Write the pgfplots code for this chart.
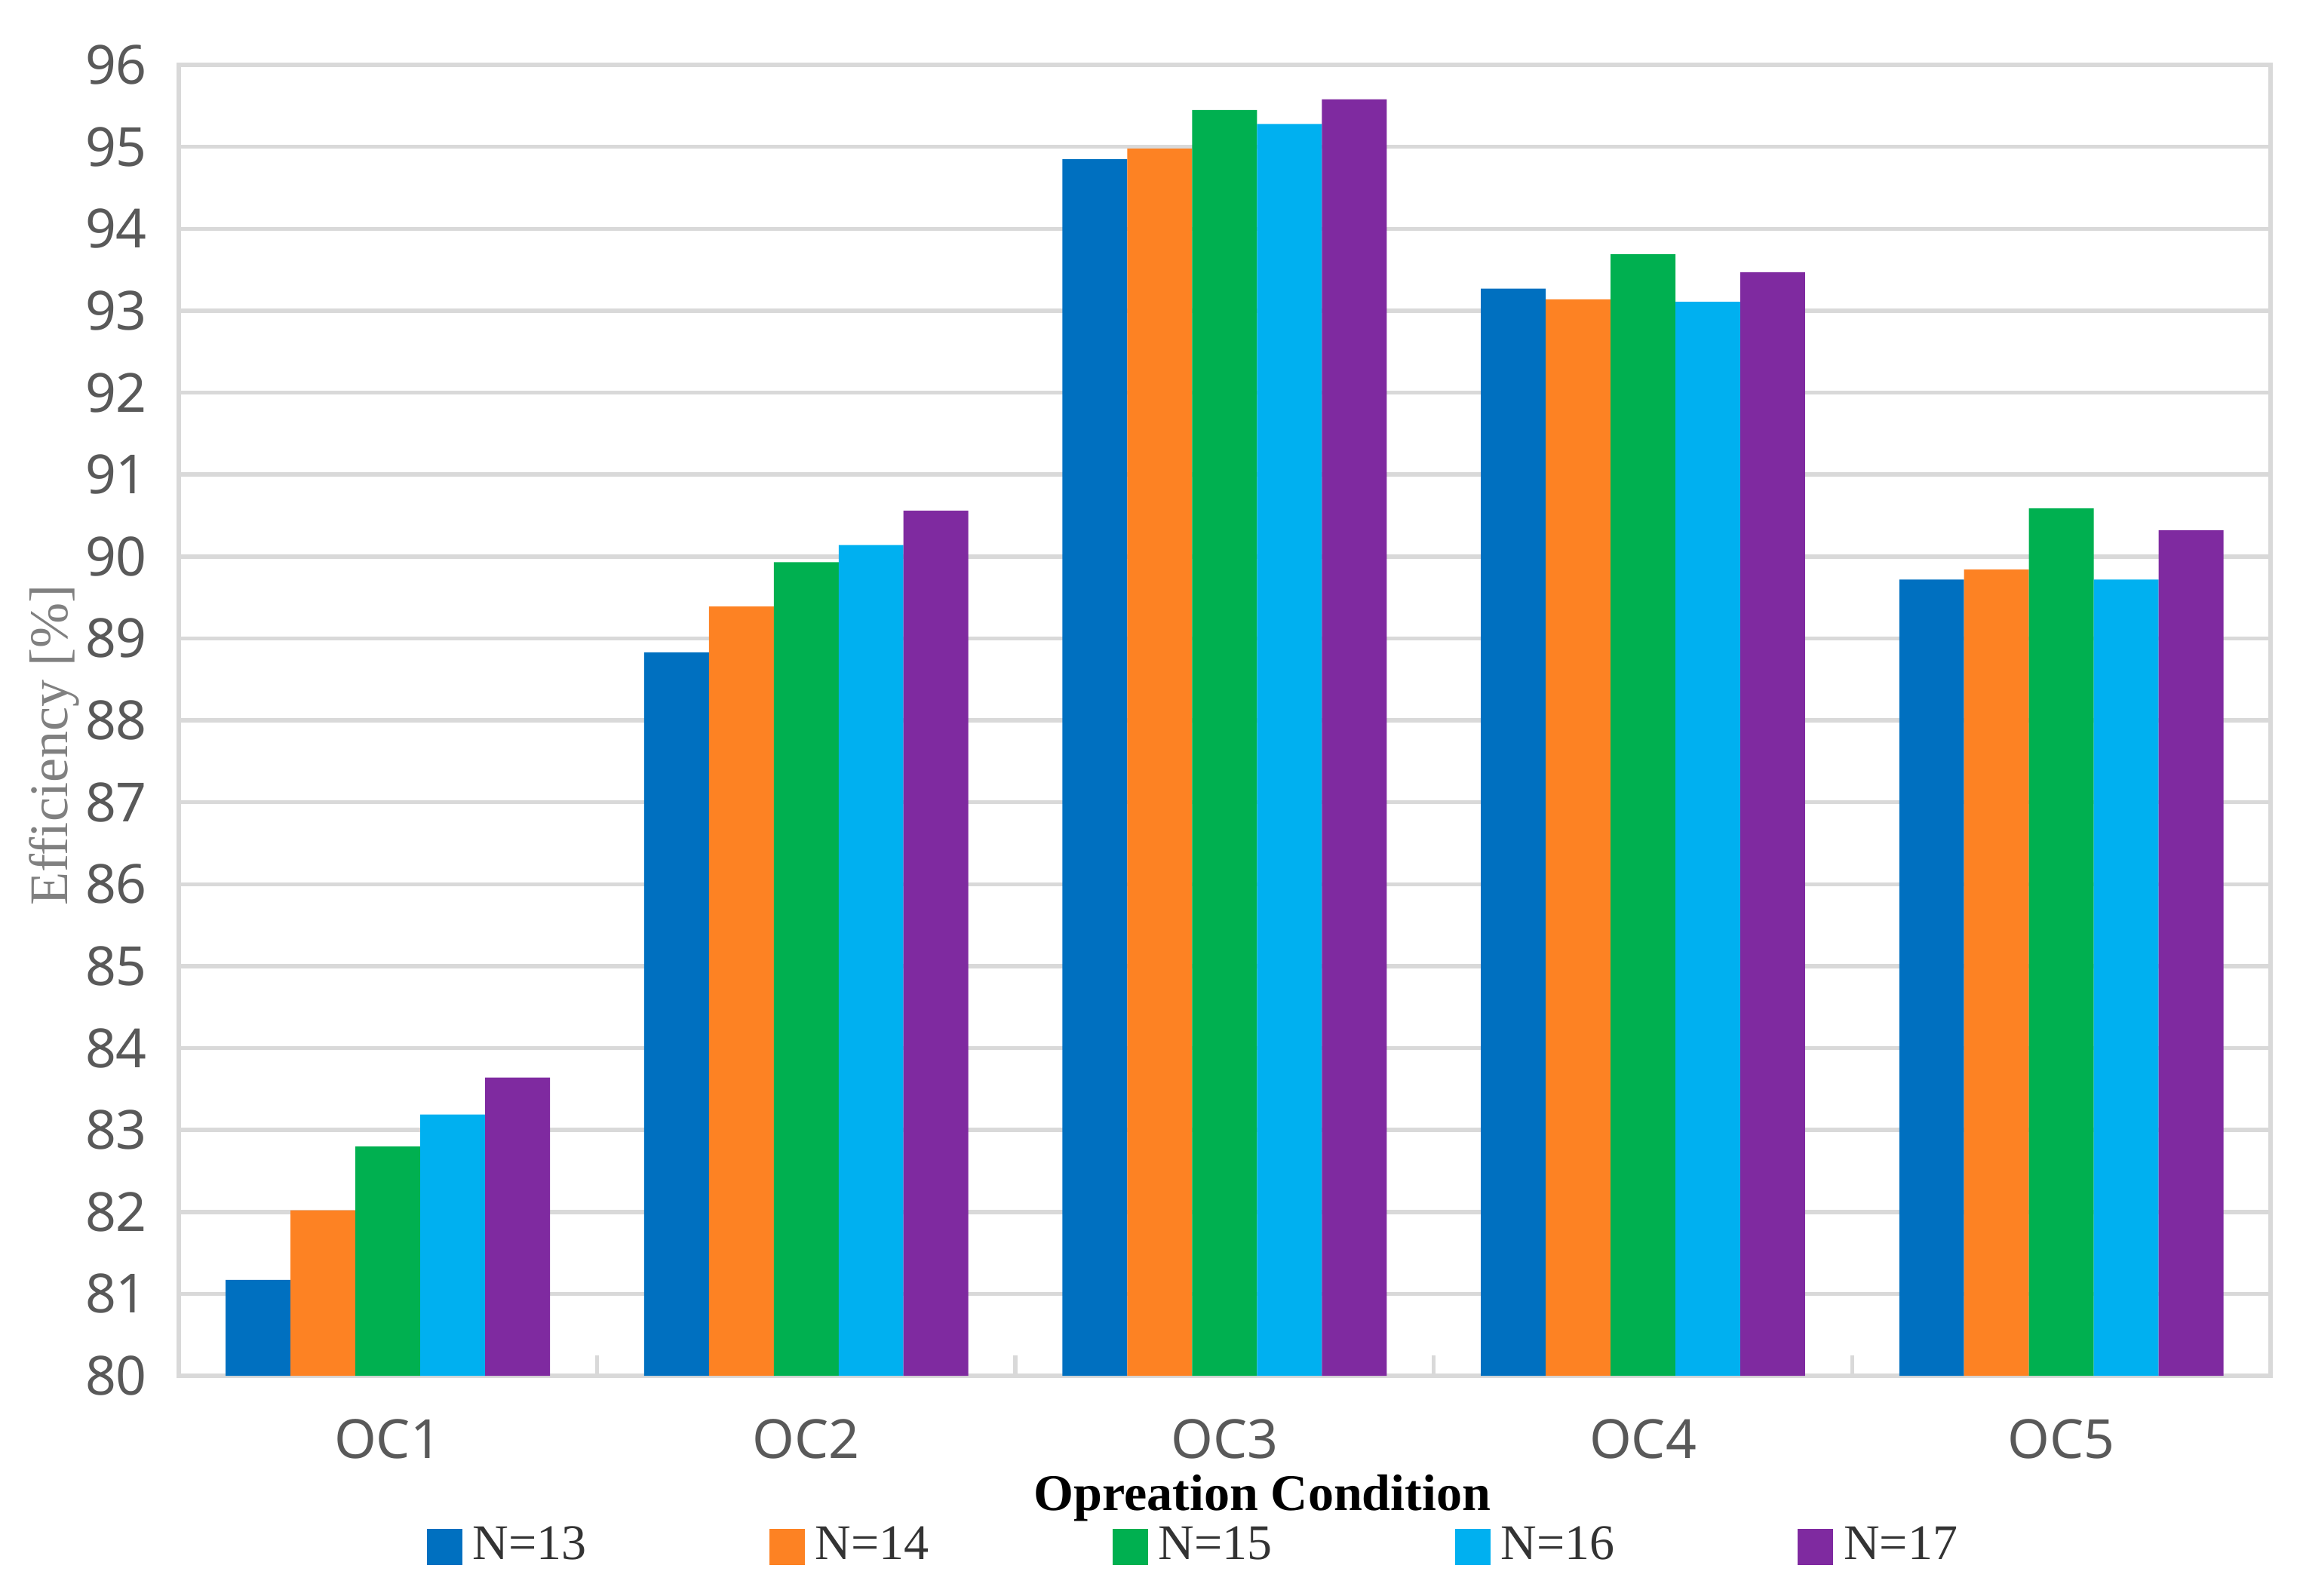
\documentclass[border=0pt]{standalone}
\usepackage{pgfplots}
\pgfplotsset{compat=1.18}
\usepackage{fontspec}
\setmainfont{Liberation Serif}
\newfontfamily\tickfont{Noto Sans}
\definecolor{gridgrey}{HTML}{D9D9D9}
\definecolor{ticktext}{HTML}{595959}
\definecolor{cA}{HTML}{0070C0}
\definecolor{cB}{HTML}{FD8223}
\definecolor{cC}{HTML}{00B050}
\definecolor{cD}{HTML}{00B0F0}
\definecolor{cE}{HTML}{7F2AA0}
\begin{document}
\begin{tikzpicture}
\path[use as bounding box] (-1.21cm,-1.49cm) rectangle (14.39cm,9.32cm);
\begin{axis}[
  scale only axis,
  width=14.17cm, height=8.88cm,
  ymin=80, ymax=96, ytick={80,81,...,96},
  xmin=-0.5, xmax=4.5,
  xtick={0,1,2,3,4},
  xticklabels={OC1,OC2,OC3,OC4,OC5},
  xtick pos=bottom,
  major tick length=0pt,
  extra x ticks={0.5,1.5,2.5,3.5},
  extra x tick labels={},
  extra x tick style={major tick length=0.14cm, tick align=inside, xtick pos=bottom,
     major tick style={draw=gridgrey, line width=0.8pt}},
  ybar=0pt, bar width=0.155,
  ymajorgrids,
  grid style={draw=gridgrey, line width=0.8pt},
  axis line style={draw=gridgrey, line width=0.8pt},
  /pgf/number format/assume math mode=true,
  ticklabel style={font=\tickfont\fontsize{10.4}{12}\selectfont, text=ticktext},
  yticklabel style={xshift=-0.09cm},
  xticklabel style={yshift=-0.17cm},
  xlabel={\textbf{Opreation Condition}},
  xlabel style={at={(axis description cs:0.518,-0.0935)}, anchor=center, font=\fontsize{9.9}{12}\selectfont, text=black},
  ylabel={Efficiency [\%]},
  ylabel style={at={(axis description cs:-0.0593,0.481)}, anchor=center, font=\fontsize{10.5}{12}\selectfont, text=black!50},
  legend columns=5,
  legend style={at={(axis description cs:0.487,-0.1306)}, anchor=center, draw=none, fill=none,
    font=\fontsize{9.6}{12}\selectfont, text=black!80,
    /tikz/every even column/.append style={column sep=1.17cm},
    inner sep=0pt},
  legend image code/.code={\fill[#1] (0cm,-0.125cm) rectangle (0.24cm,0.125cm);},
]
\addplot[fill=cA, draw=none] coordinates {(0,81.17) (1,88.83) (2,94.85) (3,93.27) (4,89.72)};
\addplot[fill=cB, draw=none] coordinates {(0,82.02) (1,89.39) (2,94.98) (3,93.14) (4,89.84)};
\addplot[fill=cC, draw=none] coordinates {(0,82.80) (1,89.93) (2,95.45) (3,93.69) (4,90.59)};
\addplot[fill=cD, draw=none] coordinates {(0,83.19) (1,90.14) (2,95.28) (3,93.11) (4,89.72)};
\addplot[fill=cE, draw=none] coordinates {(0,83.64) (1,90.56) (2,95.58) (3,93.47) (4,90.32)};
\legend{N=13,N=14,N=15,N=16,N=17}
\end{axis}
\end{tikzpicture}
\end{document}
